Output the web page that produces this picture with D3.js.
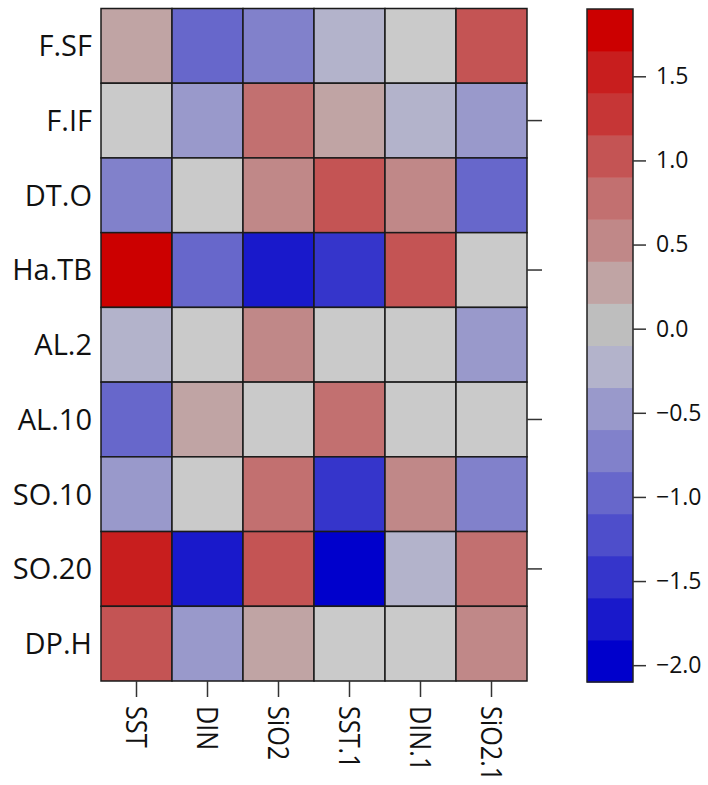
<!DOCTYPE html>
<html>
<head>
<meta charset="utf-8">
<script src="https://cdn.jsdelivr.net/npm/d3@7"></script>
<style>
  html, body { margin: 0; padding: 0; background: #fff; }
  text { font-family: "Open Sans", sans-serif; fill: #111; }
</style>
</head>
<body>
<div id="chart"></div>
<script>
const rowNames = ["F.SF", "F.IF", "DT.O", "Ha.TB", "AL.2", "AL.10", "SO.10", "SO.20", "DP.H"];
const colNames = ["SST", "DIN", "SiO2", "SST.1", "DIN.1", "SiO2.1"];

// null = not significant (drawn light grey)
const cellValues = [
  [ 0.27, -0.98, -0.72, -0.22,  null,  1.05],
  [ null, -0.48,  0.78,  0.28, -0.23, -0.46],
  [-0.72,  null,  0.52,  1.02,  0.55, -0.97],
  [ 1.85, -0.95, -1.75, -1.48,  1.05,  null],
  [-0.20,  null,  0.55,  null,  null, -0.50],
  [-1.00,  0.30,  null,  0.80,  null,  null],
  [-0.50,  null,  0.80, -1.45,  0.55, -0.70],
  [ 1.55, -1.75,  1.05, -2.05, -0.25,  0.80],
  [ 1.00, -0.50,  0.30,  null,  null,  0.55]
];

const colorBreaks = [-2.1, -1.85, -1.6, -1.35, -1.1, -0.85, -0.6, -0.35, -0.1,
                     0.15, 0.4, 0.65, 0.9, 1.15, 1.4, 1.65, 1.9];
const bandColors = ["#0000cc", "#1919cb", "#3535cb", "#4e4ecb", "#6767cb", "#8181cb",
                    "#9999cb", "#b3b3cb", "#bebebe", "#c0a4a4", "#c08888", "#c27070",
                    "#c45454", "#c63636", "#c81e1e", "#cc0000"];
const legendTicks = [-2.0, -1.5, -1.0, -0.5, 0.0, 0.5, 1.0, 1.5];
const nsColor = "#cacaca";

const width = 708, height = 785;
const grid = { left: 101, right: 527, top: 8.5, bottom: 681 };
const bar = { left: 587, right: 633, top: 9, bottom: 682 };

const svg = d3.select("#chart").append("svg")
  .attr("width", width)
  .attr("height", height);

const x = d3.scaleBand().domain(colNames).range([grid.left, grid.right]);
const y = d3.scaleBand().domain(rowNames).range([grid.top, grid.bottom]);
const color = d3.scaleThreshold()
  .domain(colorBreaks.slice(1, -1))
  .range(bandColors);

const cells = [];
rowNames.forEach((r, i) => colNames.forEach((c, j) => {
  cells.push({ row: r, col: c, value: cellValues[i][j] });
}));

// cells
svg.append("g").selectAll("rect")
  .data(cells).enter().append("rect")
  .attr("x", d => x(d.col))
  .attr("y", d => y(d.row))
  .attr("width", x.bandwidth())
  .attr("height", y.bandwidth())
  .attr("fill", d => d.value === null ? nsColor : color(d.value))
  .attr("stroke", "#1a1a1a")
  .attr("stroke-width", 1.5);

// row labels
svg.append("g").selectAll("text")
  .data(rowNames).enter().append("text")
  .attr("x", 92)
  .attr("y", d => y(d) + y.bandwidth() / 2)
  .attr("dy", "0.36em")
  .attr("text-anchor", "end")
  .attr("font-size", 29)
  .text(d => d);

// bottom ticks + rotated column labels
const bottom = svg.append("g");
bottom.selectAll("line")
  .data(colNames).enter().append("line")
  .attr("x1", d => x(d) + x.bandwidth() / 2)
  .attr("x2", d => x(d) + x.bandwidth() / 2)
  .attr("y1", grid.bottom)
  .attr("y2", grid.bottom + 16)
  .attr("stroke", "#333")
  .attr("stroke-width", 1.5);
bottom.selectAll("text")
  .data(colNames).enter().append("text")
  .attr("transform", d => `translate(${x(d) + x.bandwidth() / 2},${grid.bottom + 25}) rotate(90) scale(0.87,1)`)
  .attr("dy", "0.36em")
  .attr("font-size", 29)
  .text(d => d);

// right-side ticks on every other row
svg.append("g").selectAll("line")
  .data(rowNames.filter((d, i) => i % 2 === 1)).enter().append("line")
  .attr("x1", grid.right)
  .attr("x2", grid.right + 15)
  .attr("y1", d => y(d) + y.bandwidth() / 2)
  .attr("y2", d => y(d) + y.bandwidth() / 2)
  .attr("stroke", "#333")
  .attr("stroke-width", 1.5);

// colour bar
const yBar = d3.scaleLinear()
  .domain([colorBreaks[0], colorBreaks[colorBreaks.length - 1]])
  .range([bar.bottom, bar.top]);

const bands = bandColors.map((c, i) => ({ lo: colorBreaks[i], hi: colorBreaks[i + 1], c }));
svg.append("g").selectAll("rect")
  .data(bands).enter().append("rect")
  .attr("x", bar.left)
  .attr("y", d => yBar(d.hi))
  .attr("width", bar.right - bar.left)
  .attr("height", d => yBar(d.lo) - yBar(d.hi) + 0.5)
  .attr("fill", d => d.c);

svg.append("rect")
  .attr("x", bar.left)
  .attr("y", bar.top)
  .attr("width", bar.right - bar.left)
  .attr("height", bar.bottom - bar.top)
  .attr("fill", "none")
  .attr("stroke", "#222")
  .attr("stroke-width", 1.5);

const barAxis = svg.append("g")
  .attr("transform", `translate(${bar.right},0)`)
  .call(d3.axisRight(yBar)
    .tickValues(legendTicks)
    .tickSize(13)
    .tickPadding(10)
    .tickFormat(d => d3.format(".1f")(d).replace("-", "\u2212")));
barAxis.select(".domain").remove();
barAxis.selectAll(".tick line").attr("stroke", "#333").attr("stroke-width", 1.5);
barAxis.selectAll(".tick text")
  .attr("font-size", 23)
  .attr("font-family", "Open Sans, sans-serif")
  .attr("fill", "#111");
</script>
</body>
</html>
